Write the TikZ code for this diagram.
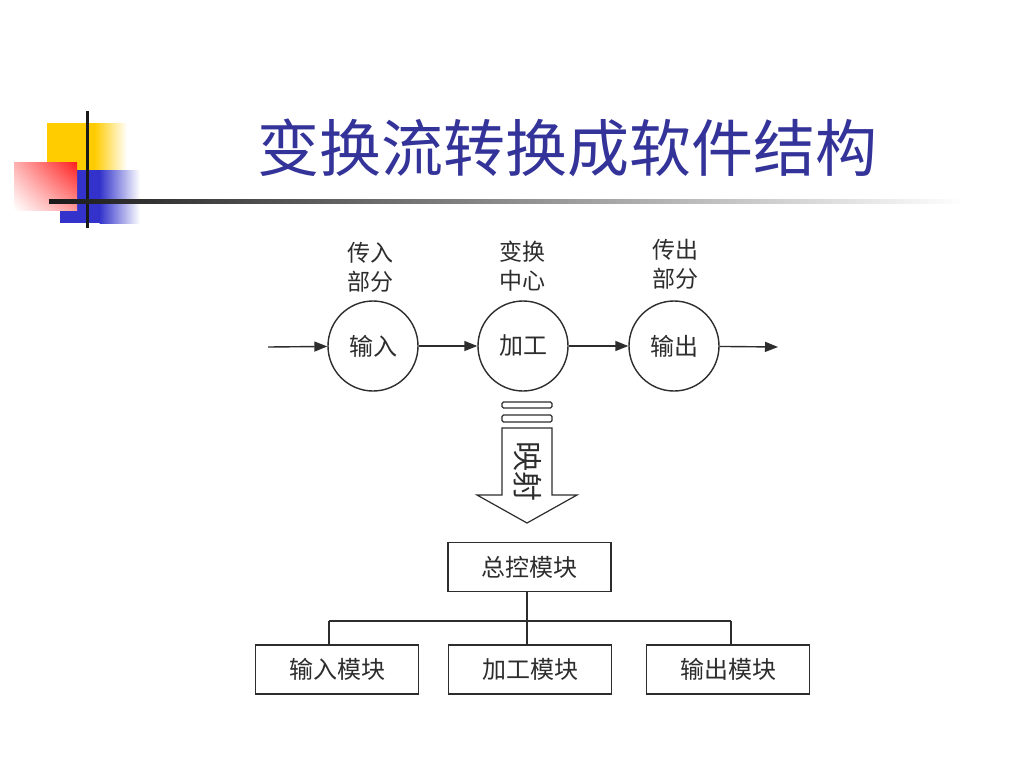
\documentclass[tikz,border=0pt]{standalone}
\usepackage{fontspec}
\setmainfont{Noto Sans CJK SC}
\usetikzlibrary{arrows.meta,shapes.geometric,shadings}
\definecolor{titleblue}{RGB}{51,51,153}
\definecolor{logoyellow}{RGB}{255,204,0}
\definecolor{logoblue}{RGB}{51,51,204}
\definecolor{logored}{RGB}{255,30,30}
\definecolor{ink}{RGB}{45,45,45}
\tikzset{
  fs/.style={font=\fontsize{#1}{#1}\selectfont},
  proc/.style={circle, draw=ink, line width=1.4pt, minimum size=90pt, inner sep=0pt, text=ink, fs=24},
  modbox/.style={draw=ink, line width=1.4pt, minimum width=163pt, minimum height=49pt, inner sep=0pt, text=ink, fs=24},
  lbl/.style={text=ink, fs=23, align=center, inner sep=0pt},
  flow/.style={draw=ink, line width=1.4pt, -{Triangle[length=13pt,width=10pt]}},
  tree/.style={draw=ink, line width=1.4pt}
}
\begin{document}
\begin{tikzpicture}[x=1pt,y=-1pt]
\useasboundingbox (0,0) rectangle (1024,768);
\fill[white] (0,0) rectangle (1024,768);
% logo
\fill[logoyellow] (47,123) rectangle (95,170);
\shade[left color=logoyellow, right color=white] (94.5,123) rectangle (127,170);
\fill[logoblue] (60,170) rectangle (100,223);
\shade[left color=logoblue, right color=white] (99.5,170) rectangle (140,223);
\shade[upper left=logored!35, upper right=logored, lower left=white, lower right=logored!45] (14,162) rectangle (77,210);
\fill[black!90] (85.5,111) rectangle (88.5,228);
\shade[left color=black!90, right color=white] (49,199) rectangle (965,203);
% title
\node[text=titleblue, fs=62, inner sep=0pt] (title) at (567,148) {变换流转换成软件结构};
% flow
\coordinate (src) at (268,347);
\coordinate (snk) at (778,347);
\node[proc] (in) at (373,346) {输入};
\node[proc] (proc) at (523,346) {加工};
\node[proc] (out) at (674,346) {输出};
\node[lbl] (lin) at (370,267) {传入\\[6pt]部分};
\node[lbl] (lproc) at (522,266) {变换\\[6pt]中心};
\node[lbl] (lout) at (675,264) {传出\\[6pt]部分};
\draw[flow] (src) -- (in);
\draw[flow] (in) -- (proc);
\draw[flow] (proc) -- (out);
\draw[flow] (out) -- (snk);
% mapping arrow
\draw[draw=ink, line width=1.2pt, fill=white, rounded corners=1.5pt] (502,402) rectangle (552,408);
\draw[draw=ink, line width=1.2pt, fill=white, rounded corners=1.5pt] (502,415) rectangle (552,422);
\draw[draw=ink, line width=1.2pt, fill=white, line join=miter] (502,428) -- (552,428) -- (552,495) -- (577,495) -- (527,523) -- (477,495) -- (502,495) -- cycle;
\node[text=ink, fs=30, rotate=-90, inner sep=0pt] (map) at (528,471) {映射};
% tree
\node[modbox] (top) at (529.5,567) {总控模块};
\node[modbox] (m1) at (337,669.5) {输入模块};
\node[modbox] (m2) at (530,669.5) {加工模块};
\node[modbox] (m3) at (728,669.5) {输出模块};
\coordinate (jl) at (329,621);
\coordinate (jm) at (527,621);
\coordinate (jr) at (731,621);
\draw[tree] (top.south -| jm) -- (jm);
\draw[tree] (jl) -- (jr);
\draw[tree] (jl) -- (m1.north -| jl);
\draw[tree] (jm) -- (m2.north -| jm);
\draw[tree] (jr) -- (m3.north -| jr);
\end{tikzpicture}
\end{document}
